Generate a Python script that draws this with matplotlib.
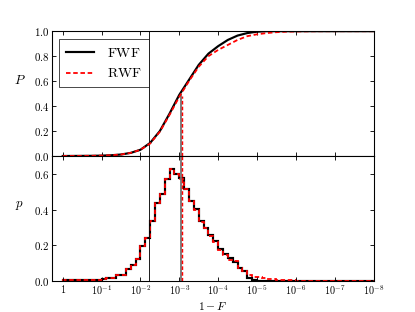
import numpy as np
import matplotlib
matplotlib.use('Agg')
import matplotlib.pyplot as plt

plt.rcParams.update({
    'font.size': 14,
    'mathtext.fontset': 'cm',
    'xtick.direction': 'in',
    'ytick.direction': 'in',
    'xtick.top': True,
    'ytick.right': True,
    'xtick.major.size': 6,
    'ytick.major.size': 6,
    'xtick.major.width': 1.2,
    'ytick.major.width': 1.2,
    'axes.linewidth': 1.5,
    'legend.fancybox': False,
})

# x axis is -log10(1 - F)
cdf_x = [0, 0.25, 0.5, 0.75, 1.0, 1.25, 1.5, 1.75, 2.0, 2.25, 2.5, 2.75, 3.0, 3.25,
         3.5, 3.75, 4.0, 4.25, 4.5, 4.75, 5.0, 5.25, 5.5, 5.75, 6.0, 6.5, 7.0, 8.0]
fwf_cdf = [0, 0.0005, 0.001, 0.0015, 0.003, 0.006, 0.012, 0.025, 0.05, 0.105, 0.2, 0.34,
           0.49, 0.61, 0.73, 0.82, 0.88, 0.93, 0.965, 0.985, 0.996, 1.0, 1.0, 1.0, 1.0,
           1.0, 1.0, 1.0]
rwf_cdf = [0, 0.0005, 0.001, 0.0015, 0.003, 0.006, 0.012, 0.025, 0.05, 0.1, 0.195, 0.33,
           0.475, 0.6, 0.715, 0.8, 0.85, 0.89, 0.93, 0.96, 0.975, 0.985, 0.992, 0.996,
           0.998, 0.9995, 1.0, 1.0]

# histogram, 64 bins of 1/8 decade from 1 to 1e-8
fwf_hist = [0.005, 0.003, 0.002, 0.002, 0.002, 0.003, 0.004, 0.006,
            0.010, 0.013, 0.017, 0.030, 0.030, 0.064, 0.090, 0.124,
            0.195, 0.243, 0.340, 0.440, 0.490, 0.576, 0.633, 0.600,
            0.580, 0.520, 0.450, 0.405, 0.337, 0.300, 0.256, 0.224,
            0.180, 0.149, 0.130, 0.105, 0.073, 0.054, 0.017, 0.006,
            0, 0, 0, 0, 0, 0, 0, 0,
            0, 0, 0, 0, 0, 0, 0, 0,
            0, 0, 0, 0, 0, 0, 0, 0]
rwf_hist = [0.005, 0.003, 0.002, 0.002, 0.002, 0.003, 0.004, 0.006,
            0.010, 0.013, 0.017, 0.030, 0.030, 0.064, 0.090, 0.124,
            0.195, 0.243, 0.340, 0.440, 0.490, 0.576, 0.630, 0.600,
            0.575, 0.520, 0.450, 0.400, 0.330, 0.300, 0.250, 0.220,
            0.175, 0.145, 0.120, 0.110, 0.070, 0.055, 0.035, 0.024,
            0.020, 0.015, 0.012, 0.008, 0.005, 0.004, 0.003, 0.002,
            0.001, 0, 0, 0, 0, 0, 0, 0,
            0, 0, 0, 0, 0, 0, 0, 0]
bin_edges = np.linspace(0, 8, len(fwf_hist) + 1)

low_line = 2.22       # thin black marker
fwf_median = 3.04
rwf_median = 3.08

xtick_labels = ['$1$'] + ['$10^{-%d}$' % k for k in range(1, 9)]

fig, (ax1, ax2) = plt.subplots(2, 1, sharex=True, figsize=(415 / 52, 312 / 52), dpi=52)
fig.subplots_adjust(left=0.125, right=0.9, top=0.9, bottom=0.1, hspace=0)

dash = (0, (2.5, 1.5))

# top: cumulative
ax1.axvline(low_line, color='k', lw=1.2)
ax1.vlines(fwf_median, 0, 0.5, color='0.45', lw=2.5)
ax1.vlines(rwf_median, 0, 0.48, color='r', lw=2, linestyles=dash)
ax1.plot(cdf_x, fwf_cdf, color='k', lw=3, label=r'$\mathrm{FWF}$')
ax1.plot(cdf_x, rwf_cdf, color='r', lw=2.5, ls=dash, label=r'$\mathrm{RWF}$')
ax1.set_ylim(0, 1)
ax1.set_yticks([0, 0.2, 0.4, 0.6, 0.8, 1.0])
ax1.set_yticklabels(['$%.1f$' % v for v in [0, 0.2, 0.4, 0.6, 0.8, 1.0]], fontsize=15)
ax1.set_ylabel('$P$', rotation=0, fontsize=18)
ax1.yaxis.set_label_coords(-0.1, 0.55)
leg = ax1.legend(loc='upper left', fontsize=19, borderpad=0.5, labelspacing=0.5,
                 handletextpad=1.0, borderaxespad=0.55)
leg.get_frame().set_edgecolor('k')
leg.get_frame().set_linewidth(1.2)
plt.setp(ax1.get_xticklabels(), visible=False)

# bottom: distribution
ax2.axvline(low_line, color='k', lw=1.2)
ax2.axvline(fwf_median, color='0.45', lw=2.5)
ax2.axvline(rwf_median, color='r', lw=2, ls=dash)
ax2.stairs(fwf_hist, bin_edges, color='k', lw=3)
ax2.stairs(rwf_hist, bin_edges, color='r', lw=2.5, ls=dash)
ax2.set_ylim(0, 0.704)
ax2.set_yticks([0, 0.2, 0.4, 0.6])
ax2.set_yticklabels(['$%.1f$' % v for v in [0, 0.2, 0.4, 0.6]], fontsize=15)
ax2.set_ylabel('$p$', rotation=0, fontsize=18)
ax2.yaxis.set_label_coords(-0.1, 0.55)
ax2.set_xlim(-0.28, 8)
ax2.set_xticks(range(9))
ax2.set_xticklabels(xtick_labels, fontsize=14)
ax2.set_xlabel('$1-F$', fontsize=16)

fig.savefig('out.png', dpi=52, facecolor='white')
